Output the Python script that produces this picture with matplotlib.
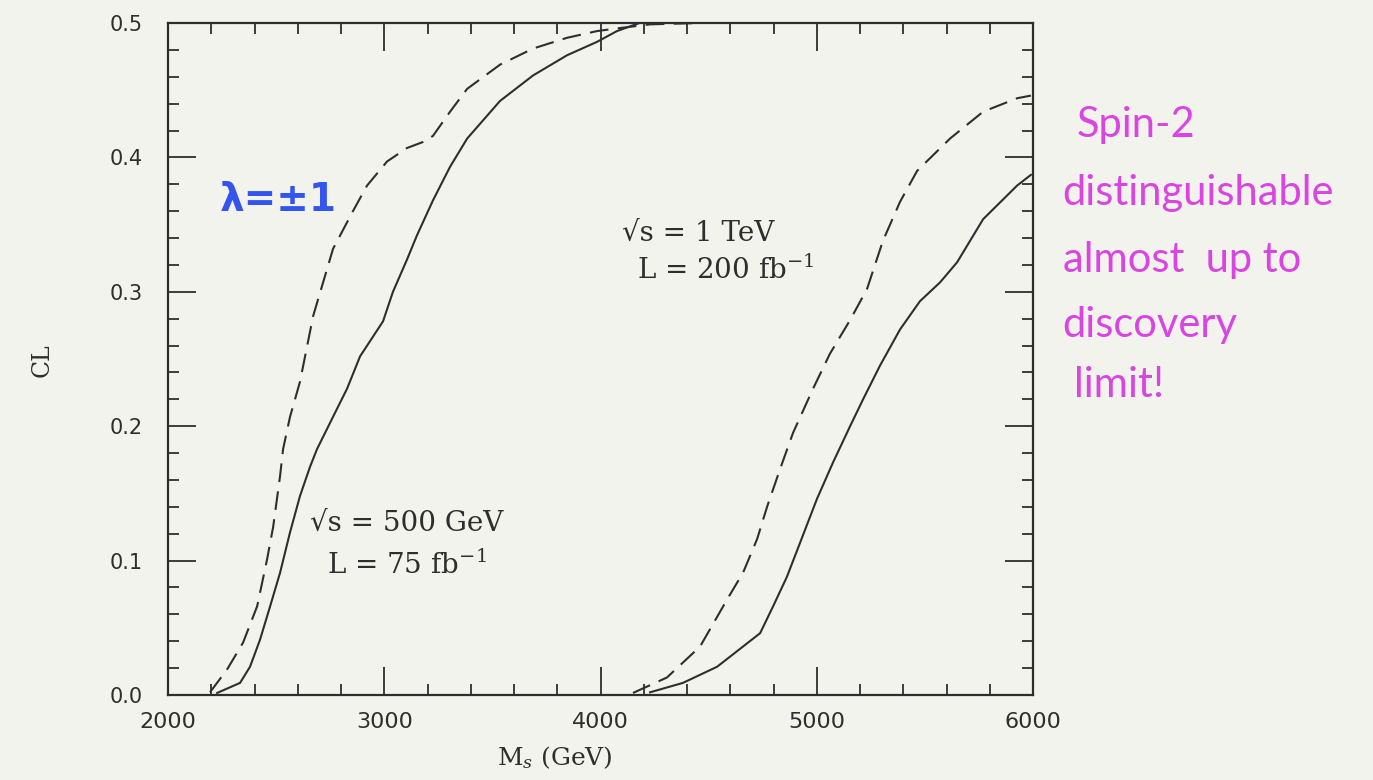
import matplotlib
matplotlib.use("Agg")
import matplotlib.pyplot as plt
from matplotlib.ticker import MultipleLocator

# CL vs M_s
ms_500_dash = [2194, 2273, 2347, 2412, 2458, 2486, 2518, 2532, 2564, 2610, 2671, 2763,
               2855, 2920, 3013, 3105, 3188, 3225, 3304, 3383, 3535, 3688, 3845, 3984,
               4076, 4229, 4460]
cl_500_dash = [0.002, 0.019, 0.039, 0.066, 0.101, 0.125, 0.163, 0.183, 0.207, 0.233, 0.282, 0.332,
               0.360, 0.379, 0.397, 0.407, 0.412, 0.416, 0.434, 0.451, 0.469, 0.481, 0.489, 0.494,
               0.496, 0.499, 0.500]

ms_500_solid = [2227, 2333, 2379, 2425, 2472, 2518, 2564, 2610, 2657, 2689, 2763, 2828,
                2888, 2994, 3040, 3105, 3151, 3225, 3304, 3383, 3535, 3688, 3845, 3984,
                4076, 4180]
cl_500_solid = [0.0015, 0.009, 0.021, 0.041, 0.066, 0.091, 0.121, 0.148, 0.170, 0.183, 0.207, 0.228,
                0.252, 0.278, 0.300, 0.324, 0.342, 0.368, 0.393, 0.414, 0.442, 0.461, 0.476, 0.486,
                0.494, 0.500]

ms_1t_dash = [4150, 4307, 4460, 4585, 4659, 4724, 4770, 4830, 4890, 4983, 5061, 5154,
              5232, 5306, 5385, 5464, 5616, 5769, 5926, 5990]
cl_1t_dash = [0.0015, 0.013, 0.036, 0.071, 0.091, 0.116, 0.140, 0.168, 0.195, 0.228, 0.254, 0.279,
              0.302, 0.338, 0.367, 0.390, 0.414, 0.434, 0.444, 0.446]

ms_1t_solid = [4229, 4381, 4539, 4738, 4798, 4862, 4922, 5001, 5075, 5154, 5214, 5292,
               5385, 5477, 5570, 5649, 5769, 5926, 5990]
cl_1t_solid = [0.002, 0.009, 0.021, 0.046, 0.066, 0.088, 0.113, 0.146, 0.173, 0.200, 0.220, 0.245,
               0.272, 0.293, 0.307, 0.322, 0.354, 0.379, 0.387]

note_lines = ["Spin-2", "distinguishable", "almost  up to", "discovery", "limit!"]
note_x = [0.784, 0.774, 0.774, 0.774, 0.782]
note_y = [0.824, 0.737, 0.651, 0.568, 0.491]

paper = "#f3f3ee"
ink = "#2e2e2e"

plt.rcParams["mathtext.fontset"] = "dejavuserif"

fig = plt.figure(figsize=(13.73, 7.80), dpi=100, facecolor=paper)
ax = fig.add_axes([0.1224, 0.109, 0.630, 0.8615], facecolor=paper)

dash = (9, 4.5)
ax.plot(ms_500_dash, cl_500_dash, color=ink, lw=1.5, dashes=dash)
ax.plot(ms_500_solid, cl_500_solid, color=ink, lw=1.5)
ax.plot(ms_1t_dash, cl_1t_dash, color=ink, lw=1.5, dashes=dash)
ax.plot(ms_1t_solid, cl_1t_solid, color=ink, lw=1.5)

ax.set_xlim(2000, 6000)
ax.set_ylim(0, 0.5)
ax.xaxis.set_major_locator(MultipleLocator(1000))
ax.xaxis.set_minor_locator(MultipleLocator(200))
ax.yaxis.set_major_locator(MultipleLocator(0.1))
ax.yaxis.set_minor_locator(MultipleLocator(0.02))
ax.tick_params(which="both", direction="in", top=True, right=True, color=ink, width=1.3)
ax.tick_params(which="major", length=20)
ax.tick_params(which="minor", length=8)
ax.tick_params(axis="x", which="major", pad=12, labelsize=16, labelcolor=ink)
ax.tick_params(axis="y", which="major", pad=18, labelsize=15, labelcolor=ink)
ax.yaxis.set_major_formatter(plt.FuncFormatter(lambda v, p: f"{v:.1f}"))
for s in ax.spines.values():
    s.set_linewidth(1.6)
    s.set_color(ink)

serif = dict(family="DejaVu Serif", color=ink)
ax.text(0.164, 0.256, "√s = 500 GeV", transform=ax.transAxes, fontsize=20, va="center", **serif)
ax.text(0.184, 0.193, "L = 75 fb$^{-1}$", transform=ax.transAxes, fontsize=20, va="center", **serif)
ax.text(0.525, 0.6875, "√s = 1 TeV", transform=ax.transAxes, fontsize=20, va="center", **serif)
ax.text(0.542, 0.632, "L = 200 fb$^{-1}$", transform=ax.transAxes, fontsize=20, va="center", **serif)

ax.text(0.060, 0.737, "λ=±1", transform=ax.transAxes, fontsize=28, fontweight="bold",
        color="#3355ee", va="center", family="DejaVu Sans")

fig.text(0.031, 0.538, "CL", rotation=90, fontsize=17, va="center", ha="center", **serif)
fig.text(0.404, 0.029, "M$_s$ (GeV)", fontsize=18, va="center", ha="center", **serif)

for txt, x, y in zip(note_lines, note_x, note_y):
    fig.text(x, y, txt, fontsize=30, color="#d944e3", family="Lato", va="baseline")

fig.savefig("out.png", dpi=100, facecolor=paper)
